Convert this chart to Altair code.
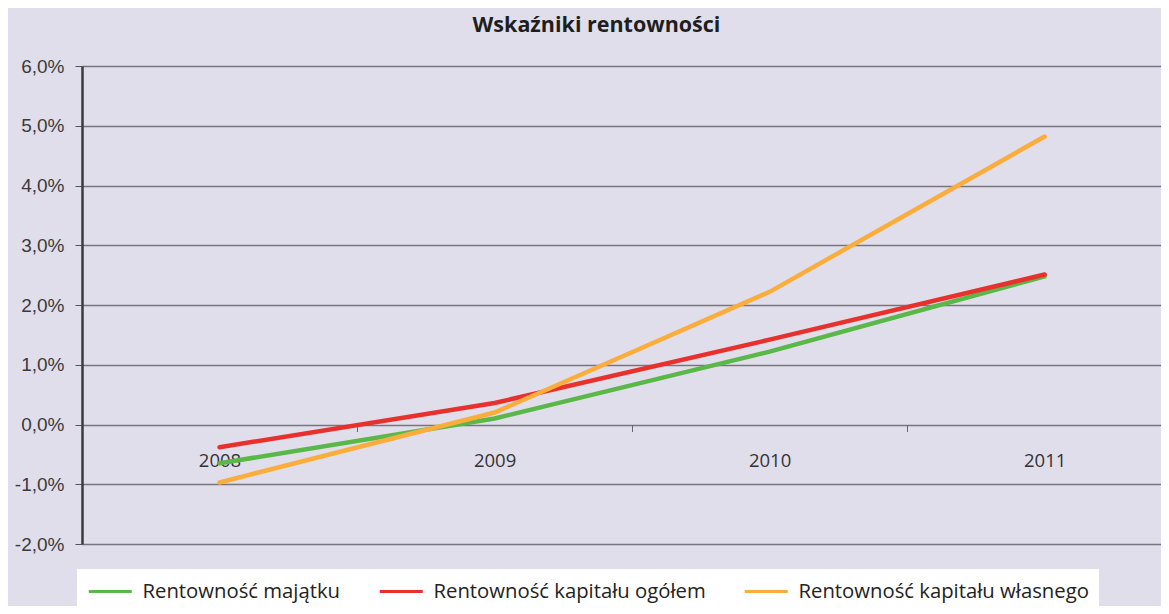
import altair as alt
import pandas as pd

years = [2008, 2009, 2010, 2011]
series_names = ["Rentowność majątku", "Rentowność kapitału ogółem", "Rentowność kapitału własnego"]
rent_majatku = [-0.65, 0.10, 1.22, 2.48]
rent_kap_ogolem = [-0.38, 0.36, 1.42, 2.51]
rent_kap_wlasnego = [-0.97, 0.20, 2.22, 4.82]
series_colors = ["#5ab848", "#e8302d", "#fbad3c"]

rows = []
for name, vals in zip(series_names, [rent_majatku, rent_kap_ogolem, rent_kap_wlasnego]):
    for y, v in zip(years, vals):
        rows.append({"rok": y, "seria": name, "wartosc": v})
df = pd.DataFrame(rows)

x_ticks = [2008, 2008.5, 2009, 2009.5, 2010, 2010.5, 2011]
y_ticks = [-2, -1, 0, 1, 2, 3, 4, 5, 6]

x_enc = alt.X(
    "rok:Q",
    scale=alt.Scale(domain=[2007.5, 2011.423], nice=False, zero=False),
    axis=alt.Axis(
        title=None,
        values=x_ticks,
        labelExpr="datum.value % 1 === 0 ? toString(datum.value) : ''",
        grid=False,
        domain=False,
        offset=-119.5,
        tickSize=7,
        tickColor="#666666",
        tickWidth=1,
        tickOpacity=alt.condition("datum.value % 1 === 0", alt.value(0), alt.value(1)),
        labelPadding=20,
        labelFont="Open Sans",
        labelFontSize=18.5,
        labelColor="#333333",
    ),
)
y_enc = alt.Y(
    "wartosc:Q",
    scale=alt.Scale(domain=[-2, 6], nice=False),
    axis=alt.Axis(
        title=None,
        values=y_ticks,
        labelExpr="replace(replace(format(datum.value, '.1f'), '.', ','), '\u2212', '-') + '%'",
        grid=True,
        gridColor="#77767e",
        gridWidth=1.4,
        domain=True,
        domainColor="#3a3a3a",
        domainWidth=2.5,
        tickSize=7,
        tickColor="#555555",
        tickWidth=1,
        labelPadding=11,
        labelFont="Liberation Sans",
        labelFontSize=19,
        labelColor="#3a3a3a",
    ),
)
color_enc = alt.Color(
    "seria:N",
    scale=alt.Scale(domain=series_names, range=series_colors),
    legend=alt.Legend(
        title=None,
        orient="none",
        legendX=-5,
        legendY=503,
        direction="horizontal",
        columns=3,
        fillColor="#ffffff",
        padding=10,
        symbolType="M-1,0H3",
        symbolSize=462,
        symbolStrokeWidth=3,
        labelOffset=30.5,
        labelLimit=500,
        labelFont="Open Sans",
        labelFontSize=20.3,
        labelColor="#222222",
        columnPadding=32,
    ),
)

layers = []
for name in series_names:
    layers.append(
        alt.Chart(df)
        .transform_filter(alt.datum.seria == name)
        .mark_line(strokeWidth=4.5, strokeCap="round", clip=False)
        .encode(x=x_enc, y=y_enc, color=color_enc, detail="seria:N")
    )

chart = (
    alt.layer(*layers)
    .properties(
        width=1079,
        height=478,
        autosize=alt.AutoSizeParams(type="none"),
        padding={"left": 74, "top": 58, "right": 0, "bottom": 62},
        background="#e1deeb",
        title=alt.TitleParams(
            "Wskaźniki rentowności",
            font="Open Sans",
            fontSize=21.5,
            fontWeight="bold",
            color="#1e1e1e",
            anchor="middle",
            dx=-25,
            offset=21,
        ),
    )
    .configure_view(stroke=None)
)

chart.save("out.html", embed_options={"renderer": "svg", "actions": False})
